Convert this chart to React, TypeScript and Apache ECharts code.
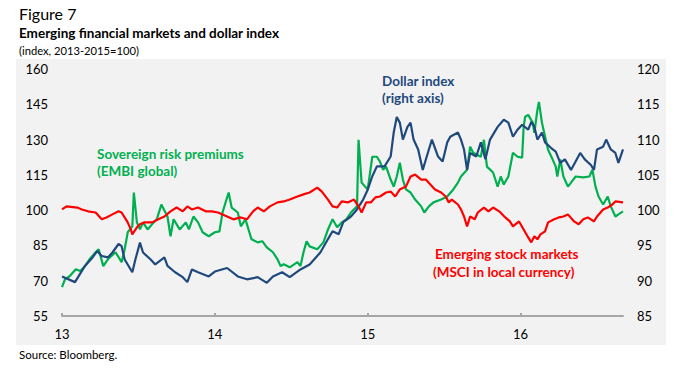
import React, { useEffect, useRef } from "react";
import * as echarts from "echarts";

// Axis ticks
const xTicks = [2013, 2014, 2015, 2016];
const leftTicks = [55, 70, 85, 100, 115, 130, 145, 160];
const rightTicks = [85, 90, 95, 100, 105, 110, 115, 120];

// Sovereign risk premiums (EMBI global), left axis
const embiT = [
  2013.0, 2013.02, 2013.05, 2013.09, 2013.12, 2013.15, 2013.18, 2013.22, 2013.24, 2013.27,
  2013.3, 2013.35, 2013.39, 2013.41, 2013.43, 2013.46, 2013.47, 2013.49, 2013.51, 2013.53,
  2013.56, 2013.6, 2013.62, 2013.65, 2013.69, 2013.71, 2013.73, 2013.77, 2013.81, 2013.83,
  2013.86, 2013.89, 2013.92, 2013.96, 2014.0, 2014.03, 2014.05, 2014.09, 2014.11, 2014.15,
  2014.17, 2014.2, 2014.22, 2014.24, 2014.28, 2014.31, 2014.34, 2014.38, 2014.41, 2014.43,
  2014.45, 2014.49, 2014.54, 2014.56, 2014.58, 2014.6, 2014.62, 2014.67, 2014.71, 2014.74,
  2014.77, 2014.8, 2014.83, 2014.86, 2014.89, 2014.93, 2014.94, 2014.96, 2015.0, 2015.03,
  2015.06, 2015.08, 2015.1, 2015.12, 2015.15, 2015.17, 2015.19, 2015.21, 2015.23, 2015.25,
  2015.28, 2015.31, 2015.35, 2015.37, 2015.4, 2015.43, 2015.48, 2015.52, 2015.56, 2015.59,
  2015.61, 2015.65, 2015.67, 2015.69, 2015.74, 2015.76, 2015.78, 2015.82, 2015.85, 2015.87,
  2015.89, 2015.92, 2015.95, 2015.98, 2016.01, 2016.02, 2016.03, 2016.05, 2016.08, 2016.09,
  2016.11, 2016.12, 2016.14, 2016.15, 2016.18, 2016.21, 2016.23, 2016.24, 2016.26, 2016.28,
  2016.31, 2016.33, 2016.36, 2016.41, 2016.45, 2016.47, 2016.49, 2016.51, 2016.54, 2016.57,
  2016.59, 2016.62, 2016.64, 2016.67,
];
const embiV = [
  67.3, 70.7, 71.9, 74.9, 74.1, 76.2, 79.1, 82.1, 83.4, 76.2,
  79.1, 82.1, 77.9, 83.4, 90.6, 93.1, 107.5, 94.8, 91.8, 94.8,
  91.8, 94.8, 96.1, 102.4, 97.3, 88.9, 96.1, 91.8, 94.8, 91.8,
  97.3, 94.8, 90.6, 88.9, 90.6, 91.0, 99.0, 107.5, 101.1, 99.0,
  93.1, 96.1, 91.8, 87.6, 86.3, 86.8, 84.2, 82.1, 79.1, 76.2,
  77.0, 75.7, 77.9, 76.2, 82.1, 86.8, 84.6, 83.4, 86.3, 91.8,
  96.1, 92.7, 94.8, 96.1, 99.0, 101.6, 129.9, 111.7, 108.8, 122.7,
  122.7, 120.6, 117.2, 118.5, 113.0, 110.0, 114.3, 120.2, 113.0, 108.8,
  107.5, 104.5, 101.6, 99.0, 101.6, 103.3, 104.5, 105.8, 108.8, 111.7,
  114.3, 117.2, 127.0, 124.4, 122.7, 129.9, 118.5, 116.0, 110.0, 114.3,
  110.9, 114.3, 124.4, 122.7, 122.3, 135.4, 139.7, 140.5, 137.1, 132.9,
  142.6, 146.0, 137.1, 134.2, 125.7, 121.5, 118.5, 114.3, 121.5, 114.3,
  110.0, 111.7, 114.3, 113.9, 114.3, 117.2, 110.0, 105.8, 102.4, 105.8,
  101.6, 97.3, 98.2, 99.5,
];

// Dollar index, right axis
const dollarT = [
  2013.0, 2013.085, 2013.15, 2013.2, 2013.23, 2013.26, 2013.3, 2013.33, 2013.37, 2013.39,
  2013.41, 2013.46, 2013.48, 2013.51, 2013.53, 2013.58, 2013.61, 2013.67, 2013.69, 2013.74,
  2013.79, 2013.82, 2013.85, 2013.89, 2013.96, 2014.0, 2014.08, 2014.15, 2014.21, 2014.28,
  2014.34, 2014.38, 2014.44, 2014.49, 2014.56, 2014.62, 2014.69, 2014.74, 2014.77, 2014.81,
  2014.84, 2014.89, 2014.93, 2014.97, 2015.0, 2015.03, 2015.06, 2015.11, 2015.15, 2015.17,
  2015.19, 2015.21, 2015.23, 2015.26, 2015.28, 2015.3, 2015.33, 2015.36, 2015.4, 2015.42,
  2015.46, 2015.49, 2015.52, 2015.54, 2015.59, 2015.61, 2015.63, 2015.65, 2015.67, 2015.71,
  2015.74, 2015.77, 2015.8, 2015.85, 2015.89, 2015.92, 2015.95, 2015.98, 2016.01, 2016.05,
  2016.07, 2016.09, 2016.11, 2016.14, 2016.16, 2016.2, 2016.23, 2016.26, 2016.29, 2016.33,
  2016.36, 2016.39, 2016.42, 2016.46, 2016.48, 2016.5, 2016.54, 2016.56, 2016.59, 2016.62,
  2016.64, 2016.67,
];
const dollarV = [
  90.6, 89.8, 92.1, 93.3, 94.2, 93.5, 93.3, 94.0, 95.2, 94.9,
  93.0, 91.2, 93.0, 95.4, 94.0, 93.0, 92.3, 93.3, 92.1, 91.2,
  90.5, 89.8, 91.6, 91.2, 90.6, 91.3, 91.8, 90.6, 90.2, 90.5,
  89.7, 90.6, 91.2, 90.5, 91.6, 92.3, 94.0, 95.9, 97.0, 96.6,
  98.3, 99.1, 100.1, 101.5, 102.9, 104.8, 106.2, 106.2, 107.6, 111.0,
  113.2, 112.4, 110.0, 111.8, 112.4, 110.0, 108.6, 105.7, 108.6, 110.0,
  107.6, 106.9, 109.6, 110.4, 111.0, 110.0, 108.6, 105.7, 108.1, 107.6,
  109.6, 107.2, 110.0, 111.8, 112.8, 112.4, 110.4, 111.4, 112.1, 111.4,
  112.5, 111.8, 110.0, 111.0, 109.6, 108.8, 108.3, 106.7, 107.2, 105.7,
  106.9, 108.1, 107.2, 106.4, 105.7, 108.6, 109.0, 110.0, 108.6, 108.1,
  106.7, 108.6,
];

// Emerging stock markets (MSCI in local currency), left axis
const msciT = [
  2013.0, 2013.03, 2013.1, 2013.13, 2013.17, 2013.22, 2013.26, 2013.29, 2013.33, 2013.37,
  2013.39, 2013.43, 2013.45, 2013.46, 2013.49, 2013.51, 2013.54, 2013.59, 2013.63, 2013.67,
  2013.71, 2013.75, 2013.79, 2013.82, 2013.85, 2013.89, 2013.94, 2013.98, 2014.02, 2014.08,
  2014.12, 2014.17, 2014.21, 2014.25, 2014.28, 2014.32, 2014.36, 2014.41, 2014.45, 2014.49,
  2014.54, 2014.58, 2014.62, 2014.67, 2014.7, 2014.74, 2014.77, 2014.8, 2014.83, 2014.87,
  2014.91, 2014.94, 2014.96, 2014.99, 2015.02, 2015.05, 2015.08, 2015.12, 2015.15, 2015.18,
  2015.21, 2015.25, 2015.28, 2015.31, 2015.35, 2015.38, 2015.41, 2015.44, 2015.48, 2015.51,
  2015.53, 2015.55, 2015.59, 2015.61, 2015.63, 2015.65, 2015.67, 2015.7, 2015.72, 2015.76,
  2015.79, 2015.82, 2015.86, 2015.9, 2015.93, 2015.95, 2015.99, 2016.02, 2016.05, 2016.07,
  2016.09, 2016.11, 2016.13, 2016.16, 2016.18, 2016.22, 2016.25, 2016.28, 2016.31, 2016.35,
  2016.38, 2016.41, 2016.44, 2016.48, 2016.5, 2016.54, 2016.57, 2016.6, 2016.62, 2016.67,
];
const msciV = [
  100.3, 101.6, 101.1, 100.3, 99.5, 99.0, 96.1, 96.9, 98.2, 99.5,
  99.0, 94.8, 91.8, 89.7, 92.7, 94.0, 94.8, 94.8, 96.1, 97.3,
  99.5, 101.1, 99.5, 101.6, 100.3, 101.1, 99.5, 99.5, 99.0, 97.3,
  96.1, 96.9, 96.1, 99.5, 101.1, 99.5, 101.6, 103.3, 103.7, 104.5,
  105.8, 106.7, 107.5, 109.6, 107.9, 104.5, 101.6, 101.1, 103.7, 103.3,
  104.5, 101.6, 99.0, 103.3, 103.3, 105.4, 105.8, 107.5, 107.9, 105.8,
  108.8, 110.0, 114.3, 115.1, 113.0, 113.0, 110.9, 108.8, 107.5, 105.8,
  103.3, 104.5, 102.4, 100.3, 97.3, 93.1, 97.3, 96.1, 99.0, 101.1,
  99.5, 101.1, 99.5, 96.9, 95.2, 93.1, 95.2, 91.8, 88.4, 86.3,
  88.9, 87.6, 89.7, 91.0, 94.8, 96.1, 96.9, 97.3, 98.2, 95.2,
  94.0, 96.1, 96.9, 95.2, 97.3, 100.3, 101.1, 102.4, 103.7, 103.3,
];

const FONT = "Lato, 'Open Sans', sans-serif";
const GREEN = "#00b050";
const BLUE = "#1f497d";
const RED = "#ff0000";

const zip = (t: number[], v: number[]) => t.map((x, i) => [x, v[i]]);

export default function App() {
  const ref = useRef<HTMLDivElement>(null);
  useEffect(() => {
    if (!ref.current) return;
    const chart = echarts.init(ref.current, null, { renderer: "svg" });
    const lineSeries = (name: string, data: number[][], color: string, yAxisIndex: number) => ({
      name,
      type: "line",
      data,
      yAxisIndex,
      showSymbol: false,
      symbol: "none",
      lineStyle: { color, width: 2.2 },
      itemStyle: { color },
      z: 3,
    });
    const ann = (text: string, x: number, y: number, fill: string) => ({
      type: "text",
      x,
      y,
      style: { text, fontSize: 13.5, fontWeight: "bold", fontFamily: FONT, fill },
    });
    chart.setOption({
      animation: false,
      backgroundColor: "#ffffff",
      textStyle: { fontFamily: FONT },
      grid: { left: 62, right: 56, top: 69, bottom: 59, containLabel: false },
      xAxis: {
        type: "value",
        min: 2013,
        max: 2016.67,
        axisLine: { show: true, lineStyle: { color: "#a6a6a6", width: 2 } },
        axisTick: { show: true, inside: true, length: 3, customValues: xTicks, lineStyle: { color: "#a6a6a6", width: 2 } },
        axisLabel: {
          customValues: xTicks,
          formatter: (v: number) => String(Math.round(v) - 2000),
          color: "#000",
          fontSize: 13,
          fontFamily: FONT,
          margin: 11,
        },
        splitLine: { show: false },
      },
      yAxis: [
        {
          type: "value",
          min: 55,
          max: 160,
          axisLine: { show: false },
          axisTick: { show: false },
          splitLine: { show: false },
          axisLabel: { customValues: leftTicks, color: "#000", fontSize: 13, fontFamily: FONT, margin: 14 },
        },
        {
          type: "value",
          min: 85,
          max: 120,
          position: "right",
          axisLine: { show: false },
          axisTick: { show: false },
          splitLine: { show: false },
          axisLabel: { customValues: rightTicks, color: "#000", fontSize: 13, fontFamily: FONT, margin: 14 },
        },
      ],
      graphic: [
        { type: "rect", z: -10, silent: true, shape: { x: 16, y: 59, width: 650, height: 286 }, style: { fill: "#f2f2f2" } },
        { type: "text", x: 19, y: 5, style: { text: "Figure 7", fontSize: 16, fontFamily: FONT, fill: "#000" } },
        { type: "text", x: 19, y: 26, style: { text: "Emerging financial markets and dollar index", fontSize: 13.5, fontWeight: "bold", fontFamily: FONT, fill: "#000" } },
        { type: "text", x: 19, y: 45, style: { text: "(index, 2013-2015=100)", fontSize: 11.2, fontFamily: FONT, fill: "#000" } },
        { type: "text", x: 19, y: 348, style: { text: "Source: Bloomberg.", fontSize: 11.5, fontFamily: FONT, fill: "#000" } },
        ann("Sovereign risk premiums", 97, 147, GREEN),
        ann("(EMBI global)", 97, 164, GREEN),
        ann("Dollar index", 382, 74, BLUE),
        ann("(right axis)", 382, 91, BLUE),
        ann("Emerging stock markets", 435, 247, RED),
        ann("(MSCI in local currency)", 433, 265, RED),
      ],
      series: [
        lineSeries("Sovereign risk premiums (EMBI global)", zip(embiT, embiV), GREEN, 0),
        lineSeries("Dollar index (right axis)", zip(dollarT, dollarV), BLUE, 1),
        lineSeries("Emerging stock markets (MSCI in local currency)", zip(msciT, msciV), RED, 0),
      ],
    });
    return () => chart.dispose();
  }, []);
  return <div ref={ref} style={{ position: "fixed", left: 0, top: 0, width: 679, height: 375 }} />;
}
